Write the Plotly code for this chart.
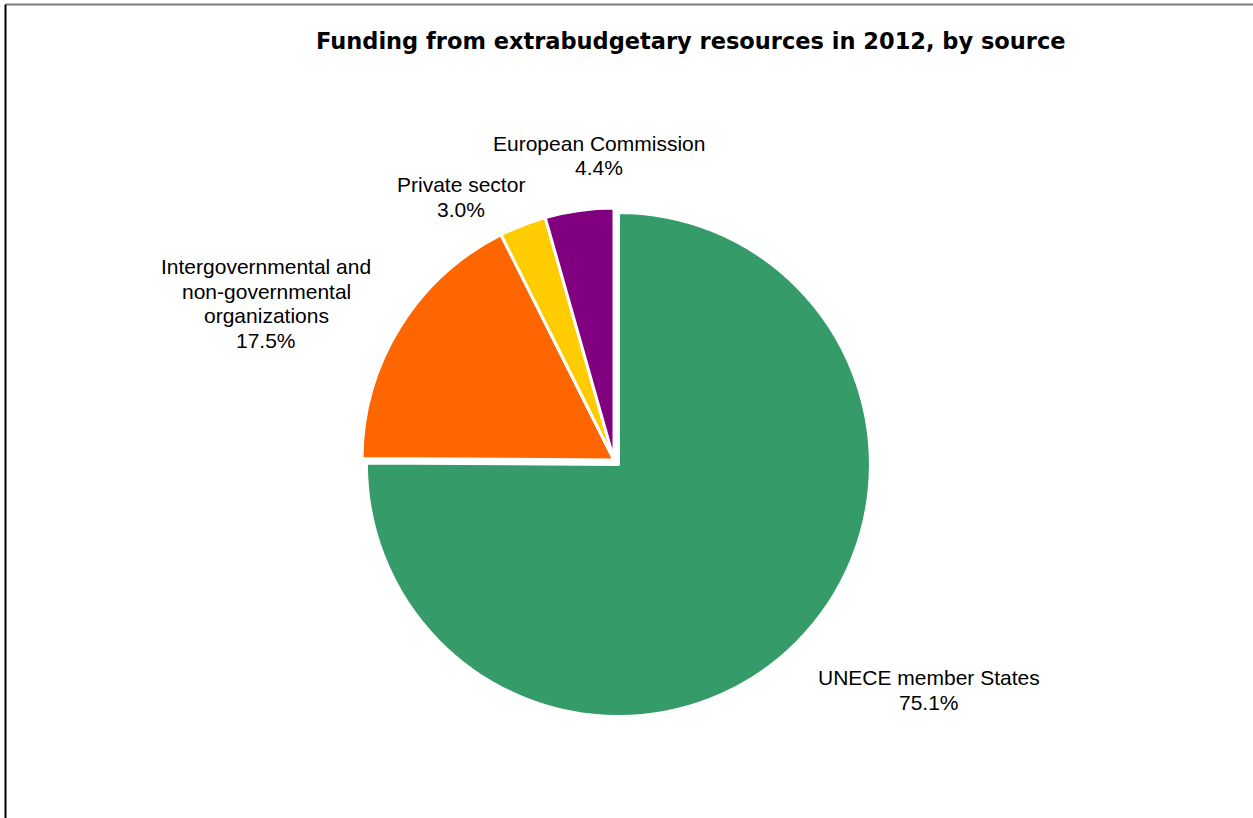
import plotly.graph_objects as go

# Funding sources (share of extrabudgetary resources, %)
sources = [
    "UNECE member States",
    "Intergovernmental and<br>non-governmental<br>organizations",
    "Private sector",
    "European Commission",
]
shares = [75.1, 17.5, 3.0, 4.4]
colors = ["#359B68", "#FF6600", "#FFCC00", "#800080"]
pulls = [0.025, 0, 0, 0]

W, H = 1253, 818


def px_x(x):
    return x / W


def px_y(y):
    return 1 - y / H


# pie geometry in pixels (centre and radius before pull)
cx, cy, r = 614, 460, 252
half = r * (1 + max(pulls))

fig = go.Figure(
    go.Pie(
        labels=[s.replace("<br>", " ") for s in sources],
        values=shares,
        sort=False,
        direction="clockwise",
        rotation=0,
        pull=pulls,
        marker=dict(colors=colors, line=dict(color="white", width=3)),
        textinfo="none",
        hoverinfo="label+percent",
        showlegend=False,
        domain=dict(
            x=[px_x(cx - half), px_x(cx + half)],
            y=[px_y(cy + half), px_y(cy - half)],
        ),
    )
)

# label blocks: centre x and the centre y of each text line
label_pos = [
    (929, [677.5, 702.5]),
    (266, [267, 291.5, 315.5, 340]),
    (460.5, [185, 209]),
    (599, [143.5, 167.5]),
]

annotations = []
for name, val, (lx, ys) in zip(sources, shares, label_pos):
    lines = name.split("<br>") + [f"{val:.1f}%"]
    for txt, ly in zip(lines, ys):
        annotations.append(
            dict(
                text=txt,
                x=px_x(lx),
                y=px_y(ly),
                xref="paper",
                yref="paper",
                xanchor="center",
                yanchor="middle",
                showarrow=False,
                font=dict(family="Liberation Sans, Arial, sans-serif", size=21, color="#000000"),
            )
        )

annotations.append(
    dict(
        text="<b>Funding from extrabudgetary resources in 2012, by source</b>",
        x=px_x(690.5),
        y=px_y(41),
        xref="paper",
        yref="paper",
        xanchor="center",
        yanchor="middle",
        showarrow=False,
        font=dict(family="DejaVu Sans, sans-serif", size=22.5, color="#000000"),
    )
)

shapes = [
    dict(type="line", xref="paper", yref="paper",
         x0=px_x(5.5), x1=1, y0=px_y(4.5), y1=px_y(4.5),
         line=dict(color="#7F7F7F", width=2)),
    dict(type="line", xref="paper", yref="paper",
         x0=px_x(5.5), x1=px_x(5.5), y0=px_y(4.5), y1=0,
         line=dict(color="#000000", width=2)),
]

fig.update_layout(
    width=W,
    height=H,
    margin=dict(l=0, r=0, t=0, b=0),
    paper_bgcolor="white",
    plot_bgcolor="white",
    annotations=annotations,
    shapes=shapes,
)

fig.write_html("out.html")
